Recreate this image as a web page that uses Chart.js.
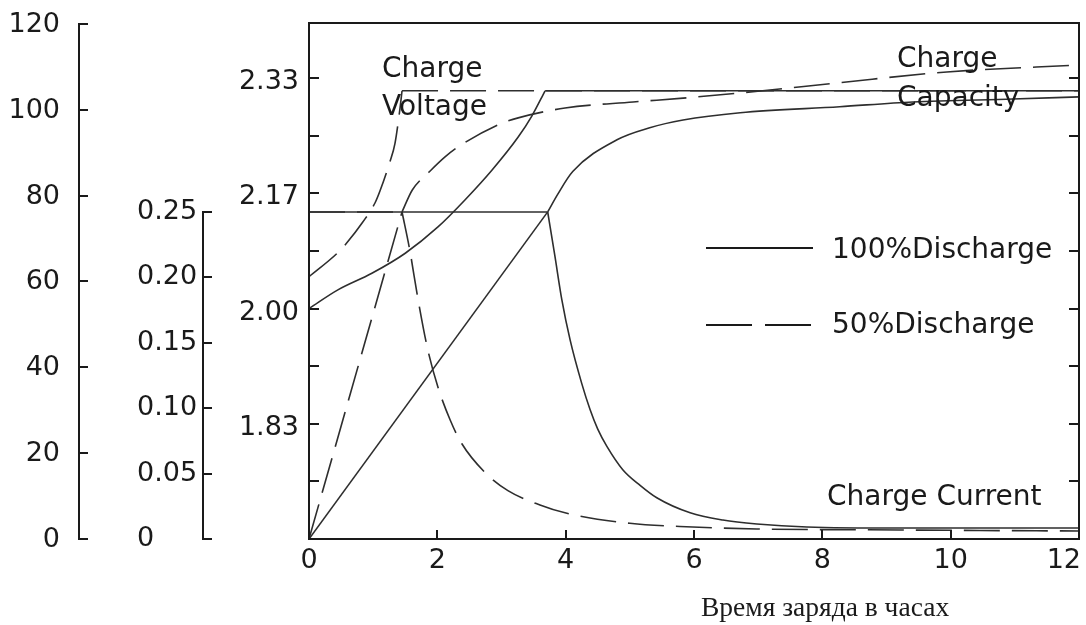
<!DOCTYPE html>
<html>
<head>
<meta charset="utf-8">
<script src="https://cdn.jsdelivr.net/npm/chart.js@4.4.0/dist/chart.umd.min.js"></script>
<style>
  html, body { margin: 0; padding: 0; background: #fff; }
  #wrap { width: 1086px; height: 625px; }
</style>
</head>
<body>
<div id="wrap"><canvas id="chart" width="1086" height="625"></canvas></div>
<script>
// Charge time in hours is the x axis (0..12)
const xTicks = [0, 2, 4, 6, 8, 10, 12];

// Voltage per cell, inner left axis
const voltTicks = [1.75, 1.8333, 1.9167, 2.0, 2.0833, 2.1667, 2.25, 2.3333];
const voltTickLabels = ['', '1.83', '', '2.00', '', '2.17', '', '2.33'];

// Charge capacity in %, outer left axis
const capTicks = [0, 20, 40, 60, 80, 100, 120];

// Charge current in CA, middle left axis
const currTicks = [0, 0.05, 0.10, 0.15, 0.20, 0.25];
const currTickLabels = ['0', '0.05', '0.10', '0.15', '0.20', '0.25'];

// 100% discharge (solid lines)
const volt100Hours = [0, 0.45, 0.98, 1.50, 2.01, 2.43, 2.85, 3.26, 3.47, 3.68];
const volt100 = [2.00, 2.027, 2.051, 2.080, 2.118, 2.157, 2.200, 2.248, 2.278, 2.315];
const voltFloatHours = [3.68, 12];
const voltFloat = [2.315, 2.315];

const ccStage100Hours = [0, 3.72];
const ccStage100 = [0.25, 0.25];
const curr100Hours = [3.72, 3.83, 3.94, 4.07, 4.25, 4.38, 4.50, 4.64, 4.89, 5.16, 5.42, 5.94, 6.45, 6.98, 7.76, 9.21, 12];
const curr100 = [0.25, 0.217, 0.183, 0.152, 0.119, 0.099, 0.084, 0.071, 0.053, 0.041, 0.0315, 0.020, 0.0145, 0.0115, 0.0092, 0.0084, 0.0084];

const capRise100Hours = [0, 3.72];
const capRise100 = [0, 76.2];
const cap100Hours = [3.72, 3.88, 4.11, 4.80, 5.31, 5.83, 6.72, 8.27, 9.41, 10.97, 12];
const cap100 = [76.2, 80.4, 85.6, 93.0, 95.8, 97.6, 99.3, 100.7, 101.8, 102.5, 103.0];

// 50% discharge (dashed lines)
const volt50Hours = [0, 0.44, 0.59, 0.83, 1.03, 1.11, 1.26, 1.34, 1.42, 1.45];
const volt50 = [2.046, 2.080, 2.095, 2.124, 2.153, 2.171, 2.212, 2.239, 2.291, 2.315];
const voltFloat50Hours = [1.45, 12];
const voltFloat50 = [2.315, 2.315];

const ccStage50Hours = [0, 1.45];
const ccStage50 = [0.25, 0.25];
const curr50Hours = [1.45, 1.57, 1.70, 1.85, 2.01, 2.20, 2.38, 2.74, 3.10, 3.60, 3.99, 5.0, 5.98, 6.98, 9.2, 12];
const curr50 = [0.25, 0.221, 0.183, 0.145, 0.116, 0.091, 0.073, 0.051, 0.037, 0.026, 0.020, 0.012, 0.0092, 0.0077, 0.0069, 0.0061];

const capRise50Hours = [0, 1.45];
const capRise50 = [0, 76.2];
const cap50Hours = [1.45, 1.61, 1.88, 2.12, 2.32, 2.95, 3.26, 3.99, 5.05, 5.83, 6.92, 8.27, 9.94, 12];
const cap50 = [76.2, 81.3, 85.6, 89.0, 91.3, 96.5, 98.1, 100.4, 101.8, 102.7, 104.2, 106.3, 108.8, 110.4];

const ink = '#1a1a1a';
const curveInk = '#2e2e2e';
const tickFont = '27px "DejaVu Sans", sans-serif';
const noteFont = '28px "DejaVu Sans", sans-serif';
const titleFont = '27.5px "Liberation Serif", serif';
const dashPattern = [36, 12];

function pairs(xs, ys) {
    return xs.map((x, i) => ({ x: x, y: ys[i] }));
}

function curve(label, xs, ys, axis, dashed, smooth) {
    return {
        label: label,
        data: pairs(xs, ys),
        yAxisID: axis,
        borderColor: curveInk,
        borderWidth: 1.6,
        borderDash: dashed ? dashPattern : [],
        pointRadius: 0,
        tension: smooth ? 0.4 : 0,
        cubicInterpolationMode: smooth ? 'monotone' : 'default',
        fill: false
    };
}

// Frame, inward ticks, the two free-standing left axes, notes and legend
const decorPlugin = {
    id: 'decor',
    afterDraw(chart) {
        const { ctx, chartArea: area, scales } = chart;
        const sx = scales.x, sV = scales.yV, sP = scales.yP, sC = scales.yC;
        ctx.save();
        ctx.strokeStyle = ink;
        ctx.fillStyle = ink;
        ctx.lineWidth = 2;

        ctx.strokeRect(area.left, area.top, area.right - area.left, area.bottom - area.top);

        ctx.beginPath();
        voltTicks.forEach(v => {
            const y = Math.round(sV.getPixelForValue(v));
            ctx.moveTo(area.left, y); ctx.lineTo(area.left + 10, y);
            ctx.moveTo(area.right, y); ctx.lineTo(area.right - 10, y);
        });
        xTicks.slice(1, -1).forEach(h => {
            const x = Math.round(sx.getPixelForValue(h));
            ctx.moveTo(x, area.bottom); ctx.lineTo(x, area.bottom - 9);
        });

        // capacity axis
        const capX = 79;
        ctx.moveTo(capX, sP.getPixelForValue(0));
        ctx.lineTo(capX, sP.getPixelForValue(capTicks[capTicks.length - 1]));
        capTicks.forEach(v => {
            const y = Math.round(sP.getPixelForValue(v));
            ctx.moveTo(capX - 1, y); ctx.lineTo(capX + 9, y);
        });

        // current axis
        const curX = 203;
        ctx.moveTo(curX, sC.getPixelForValue(0));
        ctx.lineTo(curX, sC.getPixelForValue(currTicks[currTicks.length - 1]));
        currTicks.forEach(v => {
            const y = Math.round(sC.getPixelForValue(v));
            ctx.moveTo(curX - 1, y); ctx.lineTo(curX + 9, y);
        });
        ctx.stroke();

        ctx.font = tickFont;
        ctx.textBaseline = 'middle';
        ctx.textAlign = 'right';
        capTicks.forEach(v => ctx.fillText(String(v), 60, sP.getPixelForValue(v) + 1));
        voltTicks.forEach((v, i) => ctx.fillText(voltTickLabels[i], 299, sV.getPixelForValue(v) + 4));
        ctx.textAlign = 'left';
        currTicks.forEach((v, i) => ctx.fillText(currTickLabels[i], 137, sC.getPixelForValue(v)));

        ctx.textBaseline = 'alphabetic';
        xTicks.forEach(h => {
            const x = sx.getPixelForValue(h);
            const w = ctx.measureText(String(h)).width;
            ctx.fillText(String(h), Math.min(x - w / 2, chart.width - 5 - w), 568);
        });

        // curve notes
        ctx.font = noteFont;
        ctx.fillText('Charge', 382, 77);
        ctx.fillText('Voltage', 382, 115);
        ctx.fillText('Charge', 897, 67);
        ctx.fillText('Capacity', 897, 106);
        ctx.fillText('Charge Current', 827, 505);

        // legend
        ctx.fillText('100%Discharge', 832, 258);
        ctx.fillText('50%Discharge', 832, 333);
        ctx.beginPath();
        ctx.moveTo(706, 248); ctx.lineTo(813, 248);
        ctx.stroke();
        ctx.setLineDash([46, 13]);
        ctx.beginPath();
        ctx.moveTo(706, 325); ctx.lineTo(811, 325);
        ctx.stroke();
        ctx.setLineDash([]);

        // axis title
        ctx.font = titleFont;
        ctx.fillText('Время заряда в часах', 701, 616);
        ctx.restore();
    }
};

const canvas = document.getElementById('chart');
new Chart(canvas.getContext('2d'), {
    type: 'line',
    data: {
        datasets: [
            curve('Charge Voltage 100%', volt100Hours, volt100, 'yV', false, true),
            curve('Float Voltage 100%', voltFloatHours, voltFloat, 'yV', false, false),
            curve('Constant Current 100%', ccStage100Hours, ccStage100, 'yC', false, false),
            curve('Charge Current 100%', curr100Hours, curr100, 'yC', false, true),
            curve('Capacity Rise 100%', capRise100Hours, capRise100, 'yP', false, false),
            curve('Charge Capacity 100%', cap100Hours, cap100, 'yP', false, true),
            curve('Charge Voltage 50%', volt50Hours, volt50, 'yV', true, true),
            curve('Float Voltage 50%', voltFloat50Hours, voltFloat50, 'yV', true, false),
            curve('Constant Current 50%', ccStage50Hours, ccStage50, 'yC', true, false),
            curve('Charge Current 50%', curr50Hours, curr50, 'yC', true, true),
            curve('Capacity Rise 50%', capRise50Hours, capRise50, 'yP', true, false),
            curve('Charge Capacity 50%', cap50Hours, cap50, 'yP', true, true)
        ]
    },
    options: {
        responsive: false,
        animation: false,
        devicePixelRatio: 1,
        layout: { padding: { left: 309, top: 23, right: 7, bottom: 86 } },
        plugins: { legend: { display: false }, tooltip: { enabled: false } },
        scales: {
            x: { type: 'linear', min: 0, max: 12, display: false },
            yV: { type: 'linear', min: 5 / 3, max: 2.413, display: false },
            yP: { type: 'linear', min: 0, max: 120.2, display: false },
            yC: { type: 'linear', min: 0, max: 0.3945, display: false }
        }
    },
    plugins: [decorPlugin]
});
</script>
</body>
</html>
